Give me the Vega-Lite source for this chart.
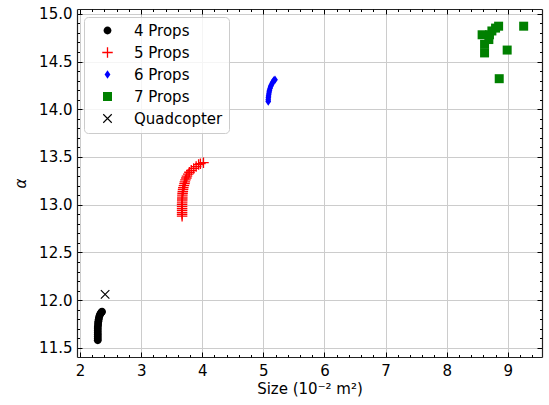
{
  "$schema": "https://vega.github.io/schema/vega-lite/v6.json",
  "width": 465,
  "height": 348,
  "autosize": {"type": "none"},
  "padding": {"left": 77, "top": 9, "right": 7, "bottom": 48},
  "background": "white",
  "config": {
    "view": {"stroke": null},
    "font": "DejaVu Sans",
    "axis": {"labelFont": "DejaVu Sans", "titleFont": "DejaVu Sans", "labelFontSize": 15, "titleFontSize": 15, "labelColor": "black", "titleColor": "black", "tickColor": "black", "domainColor": "#222222", "titleFontWeight": "normal"}
  },
  "data": {"values": [
    {"x": 2.29, "y": 11.58, "series": "4 Props"},
    {"x": 2.29, "y": 11.60, "series": "4 Props"},
    {"x": 2.29, "y": 11.62, "series": "4 Props"},
    {"x": 2.29, "y": 11.64, "series": "4 Props"},
    {"x": 2.29, "y": 11.66, "series": "4 Props"},
    {"x": 2.29, "y": 11.68, "series": "4 Props"},
    {"x": 2.29, "y": 11.70, "series": "4 Props"},
    {"x": 2.29, "y": 11.72, "series": "4 Props"},
    {"x": 2.295, "y": 11.74, "series": "4 Props"},
    {"x": 2.295, "y": 11.76, "series": "4 Props"},
    {"x": 2.30, "y": 11.78, "series": "4 Props"},
    {"x": 2.305, "y": 11.80, "series": "4 Props"},
    {"x": 2.31, "y": 11.82, "series": "4 Props"},
    {"x": 2.32, "y": 11.84, "series": "4 Props"},
    {"x": 2.33, "y": 11.855, "series": "4 Props"},
    {"x": 2.34, "y": 11.865, "series": "4 Props"},
    {"x": 2.35, "y": 11.875, "series": "4 Props"},
    {"x": 2.36, "y": 11.88, "series": "4 Props"},
    {"x": 3.67, "y": 12.88, "series": "5 Props"},
    {"x": 3.67, "y": 12.90, "series": "5 Props"},
    {"x": 3.67, "y": 12.92, "series": "5 Props"},
    {"x": 3.67, "y": 12.94, "series": "5 Props"},
    {"x": 3.67, "y": 12.96, "series": "5 Props"},
    {"x": 3.67, "y": 12.98, "series": "5 Props"},
    {"x": 3.67, "y": 13.00, "series": "5 Props"},
    {"x": 3.671, "y": 13.02, "series": "5 Props"},
    {"x": 3.672, "y": 13.04, "series": "5 Props"},
    {"x": 3.673, "y": 13.06, "series": "5 Props"},
    {"x": 3.674, "y": 13.08, "series": "5 Props"},
    {"x": 3.675, "y": 13.10, "series": "5 Props"},
    {"x": 3.678, "y": 13.12, "series": "5 Props"},
    {"x": 3.682, "y": 13.14, "series": "5 Props"},
    {"x": 3.686, "y": 13.16, "series": "5 Props"},
    {"x": 3.69, "y": 13.18, "series": "5 Props"},
    {"x": 3.70, "y": 13.20, "series": "5 Props"},
    {"x": 3.71, "y": 13.22, "series": "5 Props"},
    {"x": 3.715, "y": 13.24, "series": "5 Props"},
    {"x": 3.725, "y": 13.26, "series": "5 Props"},
    {"x": 3.74, "y": 13.28, "series": "5 Props"},
    {"x": 3.75, "y": 13.30, "series": "5 Props"},
    {"x": 3.77, "y": 13.32, "series": "5 Props"},
    {"x": 3.79, "y": 13.34, "series": "5 Props"},
    {"x": 3.82, "y": 13.36, "series": "5 Props"},
    {"x": 3.86, "y": 13.38, "series": "5 Props"},
    {"x": 3.90, "y": 13.40, "series": "5 Props"},
    {"x": 3.94, "y": 13.42, "series": "5 Props"},
    {"x": 3.97, "y": 13.43, "series": "5 Props"},
    {"x": 4.02, "y": 13.44, "series": "5 Props"},
    {"x": 5.08, "y": 14.08, "series": "6 Props"},
    {"x": 5.08, "y": 14.10, "series": "6 Props"},
    {"x": 5.082, "y": 14.12, "series": "6 Props"},
    {"x": 5.085, "y": 14.14, "series": "6 Props"},
    {"x": 5.09, "y": 14.16, "series": "6 Props"},
    {"x": 5.095, "y": 14.18, "series": "6 Props"},
    {"x": 5.10, "y": 14.20, "series": "6 Props"},
    {"x": 5.11, "y": 14.22, "series": "6 Props"},
    {"x": 5.12, "y": 14.24, "series": "6 Props"},
    {"x": 5.135, "y": 14.26, "series": "6 Props"},
    {"x": 5.15, "y": 14.28, "series": "6 Props"},
    {"x": 5.17, "y": 14.30, "series": "6 Props"},
    {"x": 5.19, "y": 14.31, "series": "6 Props"},
    {"x": 8.58, "y": 14.78, "series": "7 Props"},
    {"x": 8.62, "y": 14.68, "series": "7 Props"},
    {"x": 8.62, "y": 14.59, "series": "7 Props"},
    {"x": 8.69, "y": 14.73, "series": "7 Props"},
    {"x": 8.70, "y": 14.78, "series": "7 Props"},
    {"x": 8.74, "y": 14.82, "series": "7 Props"},
    {"x": 8.80, "y": 14.85, "series": "7 Props"},
    {"x": 8.85, "y": 14.87, "series": "7 Props"},
    {"x": 8.99, "y": 14.62, "series": "7 Props"},
    {"x": 8.86, "y": 14.32, "series": "7 Props"},
    {"x": 9.26, "y": 14.87, "series": "7 Props"},
    {"x": 2.41, "y": 12.06, "series": "Quadcopter"}
  ]},
  "resolve": {"axis": {"x": "independent", "y": "independent"}},
  "layer": [
    {
      "mark": {"type": "point", "filled": true, "opacity": 1, "size": 100, "strokeWidth": 0},
      "encoding": {
        "x": {"field": "x", "type": "quantitative",
          "scale": {"domain": [1.95, 9.56], "nice": false, "zero": false},
          "axis": {"orient": "bottom", "values": [2, 3, 4, 5, 6, 7, 8, 9], "grid": true, "gridColor": "#cccccc", "gridWidth": 1, "tickSize": -5, "labelPadding": 11, "title": "Size (10⁻² m²)", "titlePadding": 3, "domainWidth": 1.2}},
        "y": {"field": "y", "type": "quantitative",
          "scale": {"domain": [11.405, 15.05], "nice": false, "zero": false},
          "axis": {"orient": "left", "values": [11.5, 12, 12.5, 13, 13.5, 14, 14.5, 15], "format": ".1f", "grid": true, "gridColor": "#cccccc", "gridWidth": 1, "tickSize": -5, "labelPadding": 10, "title": "α", "titleFontStyle": "italic", "titlePadding": 10, "domainWidth": 1.2}},
        "color": {"field": "series", "type": "nominal",
          "scale": {"domain": ["4 Props", "5 Props", "6 Props", "7 Props", "Quadcopter"], "range": ["#000000", "#ff0000", "#0000ff", "#008000", "#000000"]},
          "legend": {"orient": "none", "legendX": 7, "legendY": 8, "title": null, "padding": 6, "strokeColor": "#cccccc", "fillColor": "rgba(255,255,255,0.8)", "cornerRadius": 4, "labelFontSize": 15, "labelFont": "DejaVu Sans", "labelColor": "black", "rowPadding": 6, "symbolSize": 100, "symbolOffset": 10, "labelOffset": 19, "symbolStrokeWidth": 0}},
        "shape": {"field": "series", "type": "nominal",
          "scale": {"domain": ["4 Props", "5 Props", "6 Props", "7 Props", "Quadcopter"], "range": [
            "M0.78,0A0.78,0.78 0 1,1 -0.78,0A0.78,0.78 0 1,1 0.78,0Z",
            "M-1.05,-0.13H-0.13V-1.05H0.13V-0.13H1.05V0.13H0.13V1.05H-0.13V0.13H-1.05Z",
            "M0,-0.85L0.58,0L0,0.85L-0.58,0Z",
            "M-0.9,-0.9H0.9V0.9H-0.9Z",
            "M-0.77,-0.93L0.93,0.77L0.77,0.93L-0.93,-0.77ZM0.93,-0.77L-0.77,0.93L-0.93,0.77L0.77,-0.93Z"
          ]}}
      }
    },
    {
      "mark": {"type": "point", "opacity": 0},
      "encoding": {
        "x": {"field": "x", "type": "quantitative",
          "axis": {"orient": "bottom", "values": [2.2, 2.4, 2.6, 2.8, 3.2, 3.4, 3.6, 3.8, 4.2, 4.4, 4.6, 4.8, 5.2, 5.4, 5.6, 5.8, 6.2, 6.4, 6.6, 6.8, 7.2, 7.4, 7.6, 7.8, 8.2, 8.4, 8.6, 8.8, 9.2, 9.4], "labels": false, "grid": false, "domain": false, "tickSize": -2.5, "title": null}},
        "y": {"field": "y", "type": "quantitative",
          "axis": {"orient": "left", "values": [11.6, 11.7, 11.8, 11.9, 12.1, 12.2, 12.3, 12.4, 12.6, 12.7, 12.8, 12.9, 13.1, 13.2, 13.3, 13.4, 13.6, 13.7, 13.8, 13.9, 14.1, 14.2, 14.3, 14.4, 14.6, 14.7, 14.8, 14.9], "labels": false, "grid": false, "domain": false, "tickSize": -2.5, "title": null}}
      }
    },
    {
      "mark": {"type": "point", "opacity": 0},
      "encoding": {
        "x": {"field": "x", "type": "quantitative",
          "axis": {"orient": "top", "values": [2, 3, 4, 5, 6, 7, 8, 9], "labels": false, "grid": false, "tickSize": -5, "title": null, "domainWidth": 1.2}},
        "y": {"field": "y", "type": "quantitative",
          "axis": {"orient": "right", "values": [11.5, 12, 12.5, 13, 13.5, 14, 14.5, 15], "labels": false, "grid": false, "tickSize": -5, "title": null, "domainWidth": 1.2}}
      }
    },
    {
      "mark": {"type": "point", "opacity": 0},
      "encoding": {
        "x": {"field": "x", "type": "quantitative",
          "axis": {"orient": "top", "values": [2.2, 2.4, 2.6, 2.8, 3.2, 3.4, 3.6, 3.8, 4.2, 4.4, 4.6, 4.8, 5.2, 5.4, 5.6, 5.8, 6.2, 6.4, 6.6, 6.8, 7.2, 7.4, 7.6, 7.8, 8.2, 8.4, 8.6, 8.8, 9.2, 9.4], "labels": false, "grid": false, "domain": false, "tickSize": -2.5, "title": null}},
        "y": {"field": "y", "type": "quantitative",
          "axis": {"orient": "right", "values": [11.6, 11.7, 11.8, 11.9, 12.1, 12.2, 12.3, 12.4, 12.6, 12.7, 12.8, 12.9, 13.1, 13.2, 13.3, 13.4, 13.6, 13.7, 13.8, 13.9, 14.1, 14.2, 14.3, 14.4, 14.6, 14.7, 14.8, 14.9], "labels": false, "grid": false, "domain": false, "tickSize": -2.5, "title": null}}
      }
    }
  ]
}
